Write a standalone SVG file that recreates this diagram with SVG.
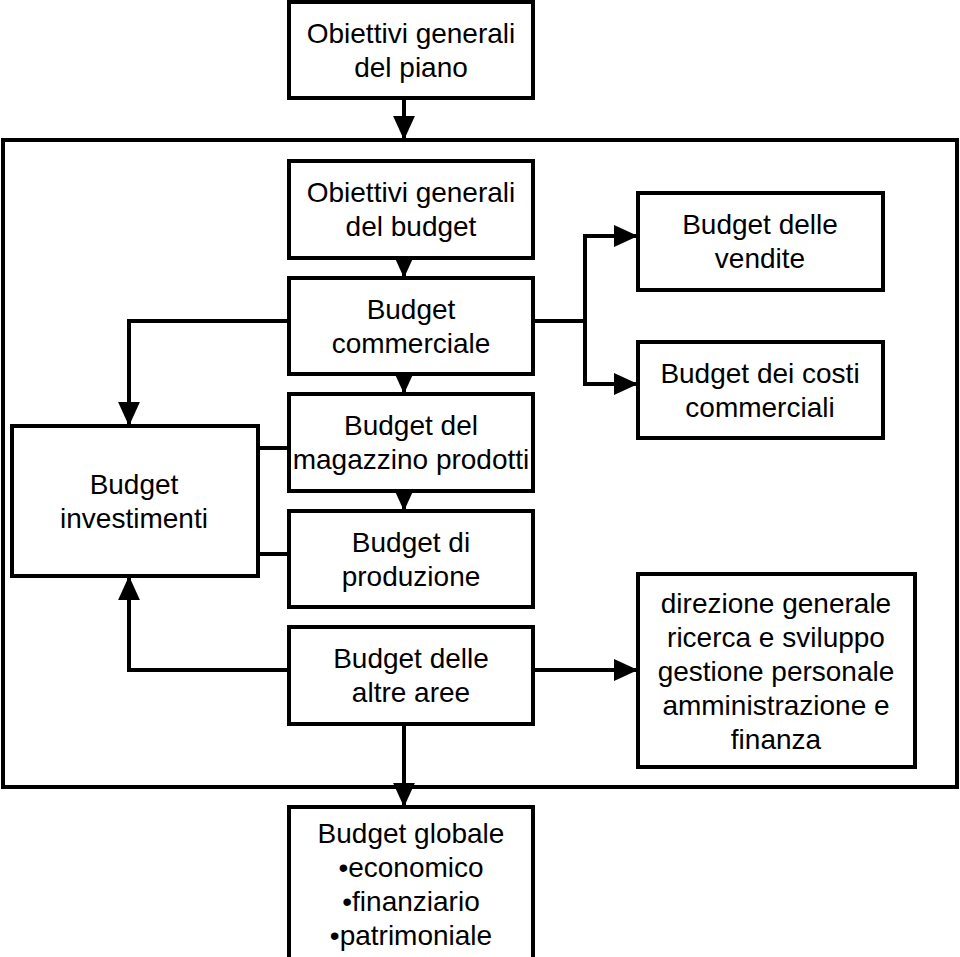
<svg xmlns="http://www.w3.org/2000/svg" width="960" height="957" viewBox="0 0 960 957">
<style>
.box{fill:#fff;stroke:#000;stroke-width:4}
.frame{fill:none;stroke:#000;stroke-width:4}
.c{fill:none;stroke:#000;stroke-width:4}
text{font-family:"Liberation Sans",Arial,sans-serif;font-size:28px;fill:#000;text-anchor:middle}
</style>
<defs>
<marker id="ah" markerUnits="userSpaceOnUse" markerWidth="24" markerHeight="24" viewBox="0 0 22 20" refX="22" refY="10" orient="auto">
<path d="M0,0 L22,10 L0,20 z" fill="#000"/>
</marker>
</defs>
<rect class="frame" x="3" y="140" width="954" height="647"/>
<g id="connectors">
<path class="c" d="M404,98 V140" marker-end="url(#ah)"/>
<path class="c" d="M404,258 V278" marker-end="url(#ah)"/>
<path class="c" d="M404,374 V394" marker-end="url(#ah)"/>
<path class="c" d="M404,491 V511" marker-end="url(#ah)"/>
<path class="c" d="M533,321 H585 V236 H638" marker-end="url(#ah)"/>
<path class="c" d="M585,321 V384 H638" marker-end="url(#ah)"/>
<path class="c" d="M289,321 H129 V426" marker-end="url(#ah)"/>
<path class="c" d="M258,448 H289"/>
<path class="c" d="M258,554 H289"/>
<path class="c" d="M289,670 H129 V576" marker-end="url(#ah)"/>
<path class="c" d="M533,670 H638" marker-end="url(#ah)"/>
<path class="c" d="M404,724 V807" marker-end="url(#ah)"/>
</g>
<g id="obiettivi-piano">
<rect class="box" x="289" y="2" width="244" height="96"/>
<text x="411" y="43">Obiettivi generali</text>
<text x="411" y="77">del piano</text>
</g>
<g id="obiettivi-budget">
<rect class="box" x="289" y="161" width="244" height="97"/>
<text x="411" y="202">Obiettivi generali</text>
<text x="411" y="236">del budget</text>
</g>
<g id="budget-commerciale">
<rect class="box" x="289" y="278" width="244" height="96"/>
<text x="411" y="319">Budget</text>
<text x="411" y="353">commerciale</text>
</g>
<g id="budget-magazzino">
<rect class="box" x="289" y="394" width="244" height="97"/>
<text x="411" y="435">Budget del</text>
<text x="411" y="469">magazzino prodotti</text>
</g>
<g id="budget-produzione">
<rect class="box" x="289" y="511" width="244" height="96"/>
<text x="411" y="552">Budget di</text>
<text x="411" y="586">produzione</text>
</g>
<g id="budget-altre-aree">
<rect class="box" x="289" y="627" width="244" height="97"/>
<text x="411" y="668">Budget delle</text>
<text x="411" y="702">altre aree</text>
</g>
<g id="budget-investimenti">
<rect class="box" x="12" y="426" width="246" height="150"/>
<text x="134" y="494">Budget</text>
<text x="134" y="528">investimenti</text>
</g>
<g id="budget-vendite">
<rect class="box" x="638" y="193" width="245" height="97"/>
<text x="760" y="234">Budget delle</text>
<text x="760" y="268">vendite</text>
</g>
<g id="budget-costi-commerciali">
<rect class="box" x="638" y="342" width="245" height="96"/>
<text x="760" y="383">Budget dei costi</text>
<text x="760" y="417">commerciali</text>
</g>
<g id="altre-aree-elenco">
<rect class="box" x="638" y="574" width="277" height="193"/>
<text x="776" y="613">direzione generale</text>
<text x="776" y="647">ricerca e sviluppo</text>
<text x="776" y="681">gestione personale</text>
<text x="776" y="715">amministrazione e</text>
<text x="776" y="749">finanza</text>
</g>
<g id="budget-globale">
<rect class="box" x="289" y="807" width="244" height="160"/>
<text x="411" y="843">Budget globale</text>
<text x="411" y="877">•economico</text>
<text x="411" y="911">•finanziario</text>
<text x="411" y="945">•patrimoniale</text>
</g>
</svg>
